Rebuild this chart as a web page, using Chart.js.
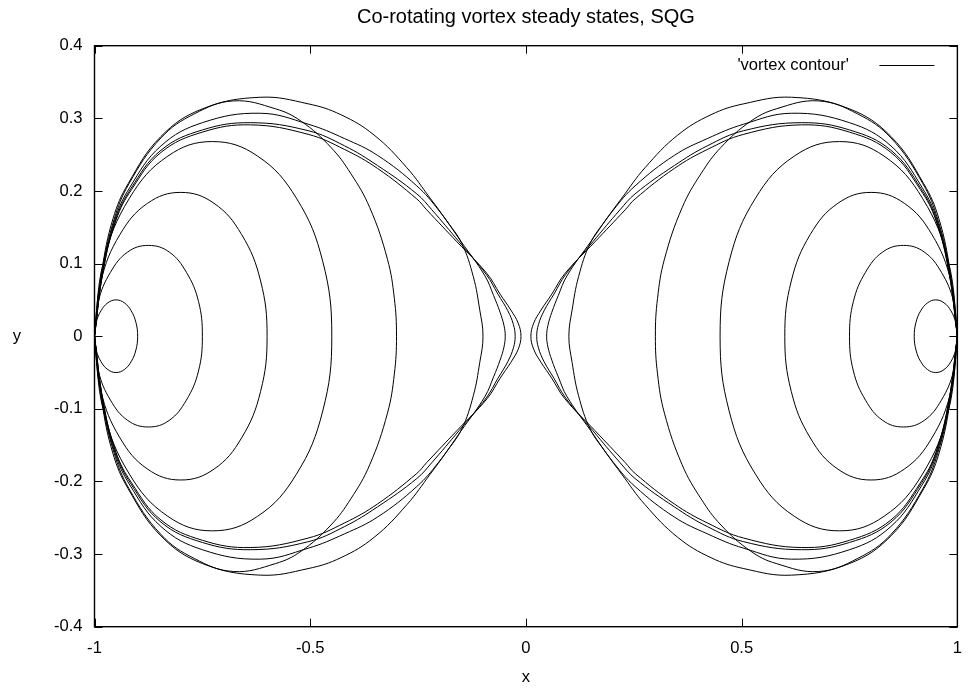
<!DOCTYPE html>
<html>
<head>
<meta charset="utf-8">
<script src="https://cdn.jsdelivr.net/npm/chart.js@4.4.1/dist/chart.umd.min.js"></script>
<style>
html, body { margin: 0; padding: 0; background: #fff; }
</style>
</head>
<body>
<canvas id="vortex_view" width="974" height="688"></canvas>
<script>
const title_text = 'Co-rotating vortex steady states, SQG';
const legend_label = "'vortex contour'";
const x_label = 'x';
const y_label = 'y';

const x_ticks = [-1, -0.5, 0, 0.5, 1];
const y_ticks = [-0.4, -0.3, -0.2, -0.1, 0, 0.1, 0.2, 0.3, 0.4];

// upper half of each left vortex contour, from x = -1 to its tip on y = 0
// (the picture is symmetric in y and mirrored for the right vortex)
const contour_1 = [[-1, 0], [-0.996, 0.019], [-0.985, 0.035], [-0.969, 0.046], [-0.95, 0.05],
    [-0.931, 0.046], [-0.915, 0.035], [-0.904, 0.019], [-0.9, 0]];
const contour_2 = [[-1, 0], [-0.991, 0.048], [-0.963, 0.088], [-0.923, 0.116], [-0.875, 0.125],
    [-0.827, 0.116], [-0.787, 0.088], [-0.759, 0.048], [-0.75, 0]];
const contour_3 = [[-1, 0], [-0.985, 0.076], [-0.941, 0.14], [-0.877, 0.183], [-0.8, 0.198],
    [-0.723, 0.183], [-0.659, 0.14], [-0.615, 0.076], [-0.6, 0]];
const contour_4 = [[-1, 0], [-0.979, 0.103], [-0.919, 0.19], [-0.83, 0.248], [-0.727, 0.268],
    [-0.622, 0.248], [-0.532, 0.19], [-0.471, 0.103], [-0.45, 0]];
const contour_5 = [[-1, 0], [-0.982, 0.09], [-0.955, 0.16], [-0.92, 0.21], [-0.846, 0.273],
    [-0.769, 0.306], [-0.678, 0.324], [-0.58, 0.313], [-0.521, 0.296], [-0.452, 0.26],
    [-0.406, 0.224], [-0.362, 0.177], [-0.321, 0.106], [-0.305, 0.052], [-0.3, 0]];
const contour_6 = [[-1, 0], [-0.983, 0.09], [-0.957, 0.162], [-0.922, 0.21], [-0.846, 0.275],
    [-0.75, 0.313], [-0.616, 0.329], [-0.505, 0.32], [-0.429, 0.305], [-0.352, 0.277],
    [-0.276, 0.232], [-0.222, 0.19], [-0.185, 0.16], [-0.149, 0.128], [-0.122, 0.082],
    [-0.107, 0.036], [-0.0995, 0]];
const contour_7 = [[-1, 0], [-0.981, 0.09], [-0.953, 0.16], [-0.918, 0.205], [-0.846, 0.262],
    [-0.75, 0.294], [-0.616, 0.307], [-0.505, 0.292], [-0.42, 0.272], [-0.344, 0.249],
    [-0.253, 0.207], [-0.203, 0.174], [-0.15, 0.13], [-0.095, 0.083], [-0.075, 0.056],
    [-0.06, 0.033], [-0.051, 0.015], [-0.048, 0]];
const contour_8 = [[-1, 0], [-0.98, 0.09], [-0.951, 0.16], [-0.916, 0.203], [-0.846, 0.256],
    [-0.75, 0.284], [-0.638, 0.294], [-0.505, 0.283], [-0.42, 0.262], [-0.344, 0.235],
    [-0.253, 0.196], [-0.218, 0.174], [-0.155, 0.13], [-0.092, 0.085], [-0.065, 0.058],
    [-0.042, 0.035], [-0.029, 0.016], [-0.025, 0]];
const contour_9 = [[-1, 0], [-0.98, 0.09], [-0.95, 0.16], [-0.914, 0.202], [-0.846, 0.253],
    [-0.75, 0.281], [-0.638, 0.291], [-0.505, 0.278], [-0.42, 0.257], [-0.344, 0.231],
    [-0.253, 0.189], [-0.23, 0.174], [-0.16, 0.13], [-0.09, 0.086], [-0.06, 0.058],
    [-0.035, 0.036], [-0.018, 0.018], [-0.0115, 0]];

const contours = [contour_1, contour_2, contour_3, contour_4, contour_5,
    contour_6, contour_7, contour_8, contour_9];

const font_family = '"Liberation Sans", Arial, Helvetica, sans-serif';
const tick_len = 8;

/**
 * Build a closed loop from an upper half contour
 * @param {Array} upper points from x = -1 to the tip
 * @param {Number} side 1 for the left vortex, -1 for the mirrored right vortex
 */
function closed_loop(upper, side) {
    const top = upper.map(p => ({ x: side * p[0], y: p[1] }));
    const bottom = upper.slice(0, -1).reverse().map(p => ({ x: side * p[0], y: -p[1] }));
    return top.concat(bottom);
}

function format_tick(value) {
    return String(Math.round(value * 10) / 10);
}

const datasets = [];
[1, -1].forEach(side => {
    contours.forEach(c => {
        datasets.push({
            label: legend_label,
            data: closed_loop(c, side),
            showLine: true,
            fill: false,
            pointRadius: 0,
            borderColor: '#000',
            borderWidth: 1,
            tension: 0.4
        });
    });
});

// frame, inward ticks, title, axis names and legend in gnuplot style
const gnuplot_frame = {
    id: 'gnuplot_frame',
    afterDraw(chart) {
        const { ctx, chartArea: area, scales } = chart;
        ctx.save();
        ctx.strokeStyle = '#000';
        ctx.lineWidth = 1;
        ctx.beginPath();
        scales.x.ticks.forEach(t => {
            const px = Math.round(scales.x.getPixelForValue(t.value)) + 0.5;
            ctx.moveTo(px, area.bottom); ctx.lineTo(px, area.bottom - tick_len);
            ctx.moveTo(px, area.top); ctx.lineTo(px, area.top + tick_len);
        });
        scales.y.ticks.forEach(t => {
            const py = Math.round(scales.y.getPixelForValue(t.value)) + 0.5;
            ctx.moveTo(area.left, py); ctx.lineTo(area.left + tick_len, py);
            ctx.moveTo(area.right, py); ctx.lineTo(area.right - tick_len, py);
        });
        ctx.stroke();
        ctx.lineWidth = 1.4;
        ctx.strokeRect(area.left, area.top, area.right - area.left, area.bottom - area.top);

        ctx.fillStyle = '#000';
        ctx.textAlign = 'center';
        ctx.textBaseline = 'middle';
        const cx = (area.left + area.right) / 2;
        ctx.font = '20px ' + font_family;
        ctx.fillText(title_text, cx, 17);
        ctx.font = '16.6px ' + font_family;
        ctx.fillText(x_label, cx, 677);
        ctx.fillText(y_label, 17, (area.top + area.bottom) / 2);

        ctx.textAlign = 'right';
        ctx.fillText(legend_label, area.right - 108.5, 65);
        ctx.lineWidth = 1;
        ctx.beginPath();
        ctx.moveTo(area.right - 78, 65.5);
        ctx.lineTo(area.right - 23, 65.5);
        ctx.stroke();
        ctx.restore();
    }
};

new Chart(document.getElementById('vortex_view'), {
    type: 'scatter',
    data: { datasets: datasets },
    plugins: [gnuplot_frame],
    options: {
        responsive: false,
        animation: false,
        devicePixelRatio: 1,
        layout: { padding: { top: 45.7, right: 8.5, bottom: 0, left: 0 } },
        scales: {
            x: {
                type: 'linear',
                min: x_ticks[0],
                max: x_ticks[x_ticks.length - 1],
                afterFit: (scale) => { scale.height = 61.3; },
                afterBuildTicks: (scale) => { scale.ticks = x_ticks.map(v => ({ value: v })); },
                grid: { display: false, drawTicks: false },
                border: { display: false },
                ticks: {
                    padding: 12,
                    color: '#000',
                    font: { family: font_family, size: 16.6 },
                    callback: format_tick
                }
            },
            y: {
                type: 'linear',
                min: y_ticks[0],
                max: y_ticks[y_ticks.length - 1],
                afterFit: (scale) => { scale.width = 94.5; },
                afterBuildTicks: (scale) => { scale.ticks = y_ticks.map(v => ({ value: v })); },
                grid: { display: false, drawTicks: false },
                border: { display: false },
                ticks: {
                    padding: 12,
                    color: '#000',
                    font: { family: font_family, size: 16.6 },
                    callback: format_tick
                }
            }
        },
        plugins: {
            legend: { display: false },
            title: { display: false },
            tooltip: { enabled: false }
        }
    }
});
</script>
</body>
</html>
